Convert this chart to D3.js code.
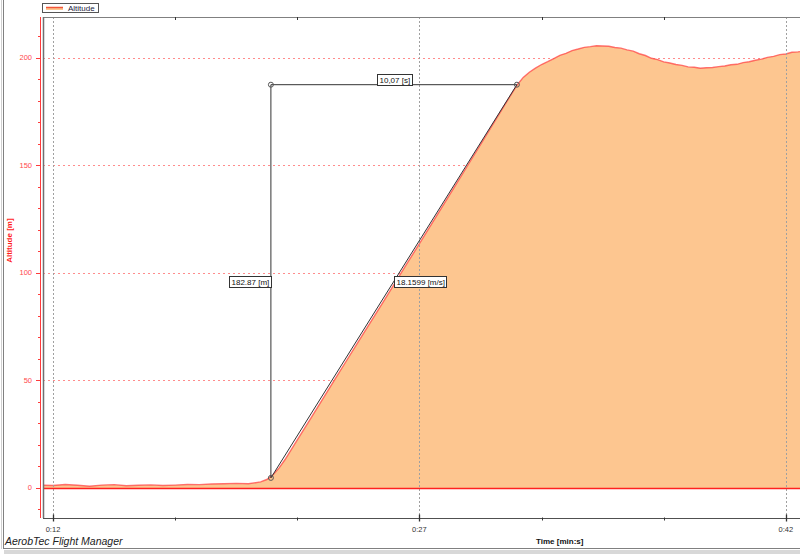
<!DOCTYPE html>
<html><head><meta charset="utf-8">
<script src="https://cdn.jsdelivr.net/npm/d3@7"></script>
<style>
html,body{margin:0;padding:0;background:#fff;}
svg{display:block;font-family:"Liberation Sans",Arial,sans-serif;}
</style></head>
<body>
<svg id="chart" width="800" height="554"></svg>
<script>
// ---- data ----
const timeSec = [11.5,12.0,12.5,13.0,13.5,14.0,14.5,15.0,15.5,16.0,16.5,17.0,17.5,18.0,18.5,19.0,19.5,20.0,20.5,20.75,
  21.0,21.25,21.5,22.0,22.5,23.0,23.5,24.0,24.5,25.0,25.5,26.0,26.5,27.0,27.5,28.0,28.5,29.0,29.5,30.0,30.5,31.0,
  31.25,31.5,31.75,32.0,32.25,32.5,32.75,33.0,33.25,33.5,33.75,34.0,34.25,34.5,34.75,35.0,35.25,35.5,35.75,36.0,
  36.25,36.5,36.75,37.0,37.25,37.5,37.75,38.0,38.25,38.5,38.75,39.0,39.25,39.5,39.75,40.0,40.25,40.5,40.75,41.0,
  41.25,41.5,41.75,42.0,42.25,42.5,42.75,43.0];
const altitude = [1.3,1.1,1.6,1.2,0.8,1.3,1.5,1.0,1.2,1.4,1.1,1.3,1.6,1.5,1.8,1.9,2.1,1.9,2.8,3.9,
  6.0,9.2,13.2,22.3,31.4,40.6,49.8,58.9,68.0,77.1,86.2,95.3,104.5,113.6,122.8,132.0,141.2,150.4,159.6,168.9,178.2,187.4,
  190.9,193.3,195.2,196.9,198.2,199.6,201.2,202.1,203.4,204.1,204.9,205.2,205.6,205.5,205.4,204.8,204.5,203.7,203.1,201.9,
  201.1,199.8,199.2,198.1,197.6,196.9,196.5,195.8,195.6,195.2,195.4,195.5,195.9,196.2,196.8,197.0,197.8,198.2,198.9,199.4,
  200.2,200.7,201.5,201.8,202.6,202.8,203.1,203.0];
const yTicks = [0,50,100,150,200];
const yMinorTicks = [-10,10,20,30,40,60,70,80,90,110,120,130,140,160,170,180,190,210];
const xMajorTicks = [12,27,42];
const xTickLabels = ["0:12","0:27","0:42"];
const xMinorTicks = [17,22,32,37];
const measurePoints = [[20.92,4.65],[30.99,187.52]];
const measureLabels = ["10,07 [s]","182.87 [m]","18.1599 [m/s]"];
const seriesName = "Altitude";

// ---- layout ----
const svg = d3.select("#chart");
const L = 43, R = 800, T = 17, B = 518;
const x = d3.scaleLinear().domain([11.59, 42.58]).range([L, R]);
const y = d3.scaleLinear().domain([-14, 219]).range([B, T]);

// outer window frame
svg.append("line").attr("x1",1.5).attr("x2",1.5).attr("y1",0).attr("y2",549).attr("stroke","#d0d0d0");
svg.append("line").attr("x1",3.5).attr("x2",3.5).attr("y1",0).attr("y2",549).attr("stroke","#808080");
svg.append("line").attr("x1",3).attr("x2",800).attr("y1",548.5).attr("y2",548.5).attr("stroke","#808080");
svg.append("rect").attr("x",4).attr("y",550).attr("width",796).attr("height",4).attr("fill","#d8d8d8");

// horizontal grid (red dotted)
svg.append("g").selectAll("line").data(yTicks.filter(d=>d!==0)).join("line")
  .attr("x1",L).attr("x2",R).attr("y1",d=>Math.round(y(d))+0.5).attr("y2",d=>Math.round(y(d))+0.5)
  .attr("stroke","#ff8c8c").attr("stroke-dasharray","2,3");

// area + line
const area = d3.area().x((d,i)=>x(timeSec[i])).y0(y(0)).y1(d=>y(d));
const line = d3.line().x((d,i)=>x(timeSec[i])).y(d=>y(d));
svg.append("clipPath").attr("id","clip").append("rect").attr("x",L).attr("y",T).attr("width",R-L).attr("height",B-T);
const plot = svg.append("g").attr("clip-path","url(#clip)");
plot.append("path").datum(altitude).attr("d",area).attr("fill","#fdc690");
plot.append("path").datum(altitude).attr("d",line).attr("fill","none").attr("stroke","#ff4444").attr("stroke-opacity",0.75).attr("stroke-width",1.4);

// vertical grid (gray dotted)
svg.append("g").selectAll("line").data(xMajorTicks).join("line")
  .attr("x1",d=>Math.round(x(d))+0.5).attr("x2",d=>Math.round(x(d))+0.5).attr("y1",T).attr("y2",B)
  .attr("stroke","#a0a0a0").attr("stroke-dasharray","2,2");

// zero line
svg.append("line").attr("x1",L).attr("x2",R).attr("y1",Math.round(y(0))+0.5).attr("y2",Math.round(y(0))+0.5)
  .attr("stroke","#ff2020").attr("stroke-width",1.3);

// plot frame
svg.append("line").attr("x1",L).attr("x2",R).attr("y1",T+0.5).attr("y2",T+0.5).attr("stroke","#808080");
svg.append("line").attr("x1",L+0.5).attr("x2",L+0.5).attr("y1",T).attr("y2",B).attr("stroke","#707070").attr("stroke-width",1.5);

// x axis
const xAxisG = svg.append("g").attr("transform",`translate(0,${B+0.5})`);
xAxisG.append("line").attr("x1",L).attr("x2",R).attr("stroke","#505050");
xAxisG.selectAll(".maj").data(xMajorTicks).join("line").attr("class","maj")
  .attr("x1",d=>Math.round(x(d))+0.5).attr("x2",d=>Math.round(x(d))+0.5).attr("y1",-4).attr("y2",3).attr("stroke","#333").attr("stroke-width",1.3);
xAxisG.selectAll(".min").data(xMinorTicks).join("line").attr("class","min")
  .attr("x1",d=>Math.round(x(d))+0.5).attr("x2",d=>Math.round(x(d))+0.5).attr("y1",-1).attr("y2",2).attr("stroke","#333");
xAxisG.selectAll("text").data(xMajorTicks).join("text")
  .attr("x",d=>x(d)).attr("y",13).attr("text-anchor","middle").attr("font-size",7.5).attr("fill","#333")
  .text((d,i)=>xTickLabels[i]);
// top minor ticks
svg.append("g").selectAll("line").data(xMinorTicks).join("line")
  .attr("x1",d=>Math.round(x(d))+0.5).attr("x2",d=>Math.round(x(d))+0.5).attr("y1",T).attr("y2",T+3).attr("stroke","#333");

// y axis (red)
const yAxisG = svg.append("g");
yAxisG.append("line").attr("x1",40.5).attr("x2",40.5).attr("y1",T).attr("y2",B).attr("stroke","#ff3b3b");
yAxisG.selectAll(".maj").data(yTicks).join("line").attr("class","maj")
  .attr("x1",36).attr("x2",40).attr("y1",d=>Math.round(y(d))+0.5).attr("y2",d=>Math.round(y(d))+0.5).attr("stroke","#ff3b3b");
yAxisG.selectAll(".min").data(yMinorTicks).join("line").attr("class","min")
  .attr("x1",38).attr("x2",40).attr("y1",d=>Math.round(y(d))+0.5).attr("y2",d=>Math.round(y(d))+0.5).attr("stroke","#ff3b3b");
yAxisG.selectAll("text").data(yTicks).join("text")
  .attr("x",32).attr("y",d=>y(d)+2.5).attr("text-anchor","end").attr("font-size",7.5).attr("fill","#ff4a4a")
  .text(d=>d);

// axis titles
svg.append("text").attr("transform",`translate(12,${y(115)}) rotate(-90)`).attr("text-anchor","middle")
  .attr("font-size",8).attr("font-weight","bold").attr("fill","#ff1a1a").text("Altitude [m]");
svg.append("text").attr("x",536).attr("y",544).attr("font-size",8).attr("font-weight","bold").attr("fill","#111").text("Time [min:s]");
svg.append("text").attr("x",5).attr("y",545).attr("font-size",10.5).attr("font-style","italic").attr("fill","#222").text("AerobTec Flight Manager");

// legend
const lg = svg.append("g");
lg.append("rect").attr("x",42.5).attr("y",3.5).attr("width",56).attr("height",9).attr("fill","#fff").attr("stroke","#555");
lg.append("rect").attr("x",46).attr("y",7).attr("width",17).attr("height",3).attr("fill","#fdc690");
lg.append("line").attr("x1",46).attr("x2",63).attr("y1",7.5).attr("y2",7.5).attr("stroke","#f2553a").attr("stroke-width",1.5);
lg.append("text").attr("x",68).attr("y",11).attr("font-size",8).attr("fill","#1a1a40").text(seriesName);

// measurement annotation
const p1 = measurePoints[0], p2 = measurePoints[1];
const X1 = x(p1[0]), Y1 = y(p1[1]), X2 = x(p2[0]), Y2 = y(p2[1]);
const mg = svg.append("g").attr("stroke","#333").attr("fill","none");
mg.append("line").attr("x1",X1).attr("x2",X1).attr("y1",Y1).attr("y2",Y2);
mg.append("line").attr("x1",X1).attr("x2",X2).attr("y1",Y2).attr("y2",Y2);
mg.append("line").attr("x1",X1).attr("x2",X2).attr("y1",Y1).attr("y2",Y2);
mg.selectAll("circle").data([[X1,Y1],[X1,Y2],[X2,Y2]]).join("circle")
  .attr("cx",d=>d[0]).attr("cy",d=>d[1]).attr("r",2.5).attr("fill","none").attr("stroke","#555");

function labelBox(txt, ax, ay, anchor){
  const g = svg.append("g");
  const t = g.append("text").attr("font-size",8).attr("fill","#111").text(txt);
  const w = t.node().getComputedTextLength();
  const bw = w + 4, bh = 11;
  let bx, by;
  if (anchor === "top") { bx = ax - bw/2; by = ay - bh; }
  else if (anchor === "right") { bx = ax - bw; by = ay - bh/2; }
  else { bx = ax; by = ay - bh/2; }
  g.insert("rect","text").attr("x",Math.round(bx)+0.5).attr("y",Math.round(by)+0.5).attr("width",Math.round(bw)).attr("height",bh)
    .attr("fill","#fff").attr("stroke","#333");
  t.attr("x",Math.round(bx)+2.5).attr("y",Math.round(by)+8.8);
}
labelBox(measureLabels[0], (X1+X2)/2, Y2, "top");
labelBox(measureLabels[1], X1, (Y1+Y2)/2, "right");
labelBox(measureLabels[2], (X1+X2)/2, (Y1+Y2)/2, "left");
</script>
</body></html>
